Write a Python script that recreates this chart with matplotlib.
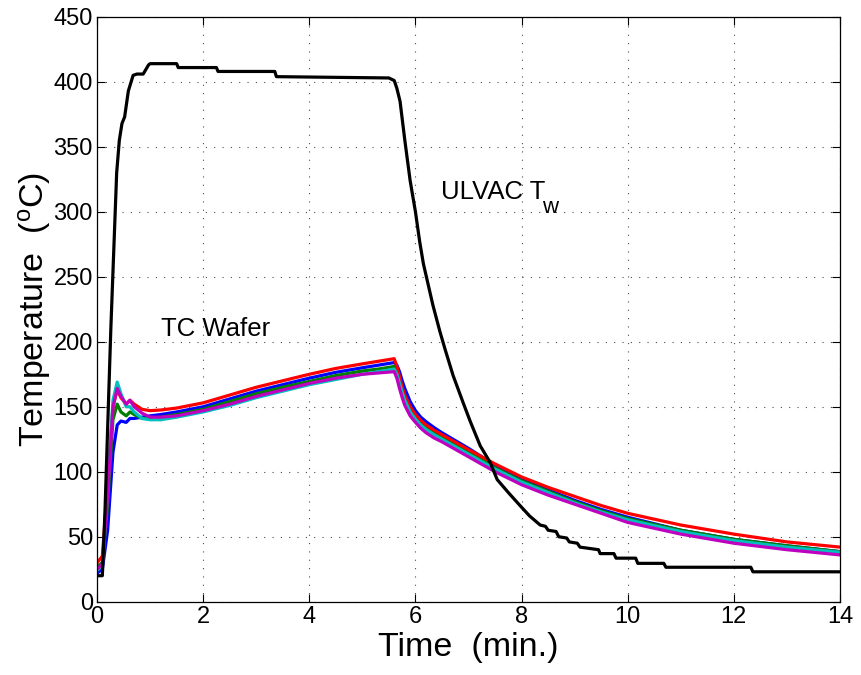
import matplotlib
matplotlib.use("Agg")
import matplotlib.pyplot as plt

plt.rcParams["font.family"] = ["Liberation Sans", "DejaVu Sans"]
plt.rcParams["mathtext.fontset"] = "custom"
plt.rcParams["mathtext.rm"] = "Liberation Sans"
plt.rcParams["mathtext.it"] = "Liberation Sans:italic"

# ---- data ----
t_tc = [0, 0.1, 0.2, 0.3, 0.38, 0.45, 0.55, 0.62, 0.7, 0.85, 1.0, 1.2, 1.5, 2.0, 2.5,
        3.0, 3.5, 4.0, 4.5, 5.0, 5.3, 5.6, 5.65, 5.7, 5.75, 5.8, 5.9, 6.0, 6.1, 6.2,
        6.35, 6.5, 7.0, 7.5, 8.0, 8.5, 9.0, 9.5, 10, 11, 12, 13, 14]

tc_blue = [22, 25, 55, 115, 136, 139, 138, 141, 141, 142, 143, 144, 146, 150, 156,
           162, 167, 172, 176.5, 180, 182, 184, 182, 177, 170, 164, 154, 147, 142, 138.5,
           134, 130, 118, 105, 94, 86, 78, 71, 65, 55, 48, 43, 38.5]
tc_green = [27, 30, 75, 140, 152, 146, 143, 146, 144, 141, 141, 142, 144, 148, 154,
            160, 165, 169.5, 174, 177.5, 179, 181, 177, 170, 163, 157, 148, 142, 137.5, 134,
            130, 126.5, 115, 103, 93, 85, 77, 70, 64, 55, 48, 43, 38.5]
tc_red = [30, 35, 90, 150, 163, 157, 152, 155, 152, 148, 147, 147.5, 149, 153, 159,
          165, 170, 175, 179.5, 183, 185, 187, 181, 173, 165, 159, 150, 144, 139.5, 136,
          132, 128.5, 117, 106, 96, 88, 81, 74, 68, 59, 52, 46, 42]
tc_cyan = [24, 28, 85, 155, 169, 160, 150, 150, 146, 141, 140, 140, 142, 146, 151,
           157, 162, 167, 171, 175, 177, 179, 175, 168, 161, 155, 146, 140.5, 136, 132.5,
           128.5, 125, 113.5, 102, 92, 84, 76, 69, 63, 54, 47, 42, 38]
tc_magenta = [25, 29, 82, 150, 164, 158, 152, 155, 150, 145, 142, 142, 143, 147, 152,
              158, 163, 168, 172, 175, 176, 177, 172, 164, 157, 151, 143, 138, 133.5, 130,
              126, 123, 111.5, 100, 90, 82, 75, 68, 61, 52, 45, 40, 36]

t_ulvac = [0, 0.1, 0.15, 0.26, 0.37, 0.42, 0.47, 0.52, 0.59, 0.68, 0.75, 0.87,
           0.97, 1.0, 1.5, 1.53, 2.25, 2.28, 3.35, 3.38, 5.5, 5.6, 5.65, 5.71, 5.8, 5.9,
           6.0, 6.08, 6.15, 6.33, 6.46, 6.56, 6.71, 6.9, 7.03, 7.22, 7.41, 7.54, 7.75, 7.97,
           8.15, 8.35, 8.45, 8.5, 8.65, 8.7, 8.85, 8.9, 9.05, 9.1, 9.45, 9.48, 9.74, 9.78,
           10.15, 10.19, 10.68, 10.72, 12.32, 12.36, 14]
T_ulvac = [20, 20, 70, 210, 330, 355, 368, 373, 393, 405, 406, 406,
           413, 414, 414, 411, 411, 408, 408, 404, 403, 401, 395, 385, 355, 324,
           300, 277, 260, 228, 208, 194, 174, 153, 139, 120, 107, 94, 84, 74,
           66, 59, 58, 55, 54, 50, 49, 46, 45, 42, 40, 37, 37, 33.5,
           33.5, 29.5, 29.5, 26.5, 26.5, 23, 23]

series = [((0, 0, 1), tc_blue), ((0, 0.5, 0), tc_green),
          ((1, 0, 0), tc_red), ((0, 0.75, 0.75), tc_cyan),
          ((0.75, 0, 0.75), tc_magenta)]

fig = plt.figure(figsize=(8.61, 6.75), dpi=100)
ax = fig.add_axes([0.1127, 0.1086, 0.8629, 0.8664])

for col, vals in series:
    ax.plot(t_tc, vals, color=col, lw=2.3, solid_joinstyle="round")
ax.plot(t_ulvac, T_ulvac, color="k", lw=2.3, solid_joinstyle="round")

ax.set_xlim(0, 14)
ax.set_ylim(0, 450)
ax.set_xticks(range(0, 15, 2))
ax.set_yticks(range(0, 451, 50))
ax.grid(True, linestyle=(0, (1, 6.5)), color="0.3", lw=0.8)
ax.tick_params(direction="in", top=True, right=True, labelsize=17, length=6, pad=3)
for s in ax.spines.values():
    s.set_linewidth(0.9)

ax.set_xlabel("Time  (min.)", fontsize=24.5, labelpad=3)
ax.set_ylabel(r"Temperature  ($^{\rm o}$C)", fontsize=24.5, labelpad=0)

ax.text(2.24, 210, "TC Wafer", fontsize=18.5, ha="center", va="center")
ax.text(6.48, 315, "ULVAC T", fontsize=18.5, ha="left", va="center")
ax.text(8.38, 303, "w", fontsize=16, ha="left", va="center")

fig.savefig("out.png", dpi=100)
